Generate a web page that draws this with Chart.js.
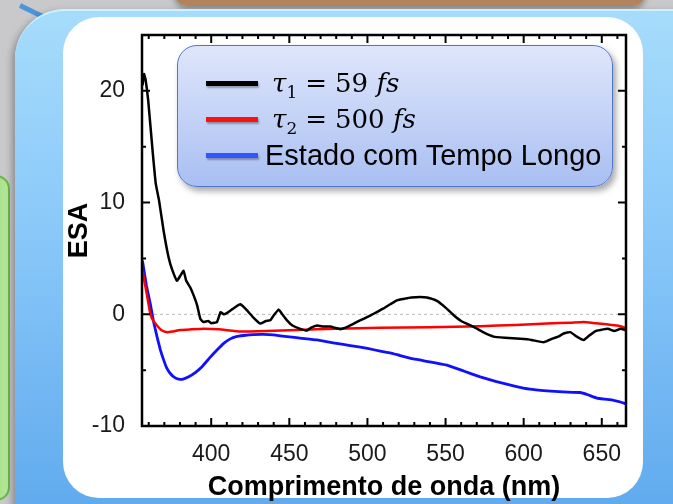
<!DOCTYPE html>
<html>
<head>
<meta charset="utf-8">
<script src="https://cdn.jsdelivr.net/npm/chart.js@4.4.1/dist/chart.umd.min.js"></script>
<style>
    body { margin: 0; width: 673px; height: 504px; overflow: hidden; background: #c9c9cc; position: relative; font-family: "Liberation Sans", Arial, sans-serif; }
    .deco { position: absolute; }
    #legend { position: absolute; left: 177px; top: 45px; width: 436px; height: 142px; box-sizing: border-box;
        border: 1.5px solid #4f76c8; border-radius: 20px;
        background: linear-gradient(to bottom, #dfe6fb, #a9bff2);
        box-shadow: 3px 4px 6px rgba(0,0,0,0.35); }
    #legend .row { position: absolute; left: 0; height: 36px; display: flex; align-items: center; }
    #legend .swatch { position: absolute; left: 28px; width: 52px; height: 5px; box-shadow: 1px 2px 2px rgba(0,0,0,0.3); }
    #legend .lbl { position: absolute; left: 87px; white-space: nowrap; font-size: 29px; color: #000; }
    #legend .math { left: 94px; font-family: "DejaVu Serif", serif; font-size: 26px; }
    #legend .math sub { font-size: 17px; vertical-align: -6px; line-height: 0; }
    #legend .math .eq { margin: 0 8px; }
</style>
</head>
<body>
<div class="deco" style="left:175px;top:-30px;width:470px;height:36px;border-radius:12px;background:linear-gradient(to bottom,#8a7a6e,#b8855c);box-shadow:0 3px 6px rgba(0,0,0,0.35)"></div>
<div class="deco" style="left:20px;top:3px;width:31px;height:5px;background:#4d94db;transform:rotate(26deg);transform-origin:0 50%"></div>
<div class="deco" style="left:-22px;top:175px;width:28px;height:322px;border-radius:14px;background:linear-gradient(to right,#8fd46a,#b5e89c);border:2px solid #6cb64a"></div>
<div class="deco" style="left:15px;top:9px;width:720px;height:540px;border-radius:50px;border-top:2px solid #c8f2ff;background:linear-gradient(to bottom,#a6dcfb 0%,#8ecbfa 35%,#5aa6ec 100%);box-shadow:-3px 3px 7px rgba(0,0,0,0.3)"></div>
<div class="deco" style="left:63px;top:17px;width:580px;height:481px;border-radius:36px;background:#ffffff"></div>
<canvas id="chart" class="deco" style="left:0;top:0" width="673" height="504"></canvas>
<div id="legend"></div>

<script>
// Dados
const seriesLabels = ['τ1 = 59 fs', 'τ2 = 500 fs', 'Estado com Tempo Longo'];
const seriesColors = ['#000000', '#ff0000', '#1010ff'];
const legendColors = ['#000000', '#ff1010', '#3355ff'];

const xTicks = [400, 450, 500, 550, 600, 650];
const yTicks = [-10, 0, 10, 20];

const tau1Nm = [356, 357, 358, 359.7, 362.5, 364.5, 366.6, 369.5, 372.7, 375, 378.1, 380, 382.3, 384, 386.6, 389, 391, 393, 395, 398,
    400, 403.7, 406, 408, 410, 413, 416, 418.6, 422.9, 427, 431.4, 435, 437.8, 440, 443.1, 445, 448.5, 452, 457, 461.3,
    464, 467.7, 472, 476.2, 482.6, 486, 489, 493, 497.5, 502, 506, 510, 514.6, 518.9, 524, 528, 533.8, 538, 544.5, 550,
    555.2, 560, 568, 574, 580.8, 588, 597.9, 605, 612.8, 618, 622, 626, 629.9, 634, 638.5, 642, 646, 649.2, 654, 658, 662, 665];
const tau1Val = [20.5, 21.5, 21.0, 19.1, 14.6, 11.7, 10.2, 7.5, 5.1, 4.0, 3.0, 3.4, 3.9, 3.0, 2.4, 1.6, 0.8, -0.4, -0.7, -0.6,
    -0.8, -0.7, 0.2, 0.0, 0.1, 0.4, 0.7, 0.9, 0.36, -0.3, -0.83, -0.6, -0.54, -0.1, 0.42, 0.1, -0.54, -1.0, -1.3, -1.45,
    -1.2, -1.0, -1.1, -1.1, -1.33, -1.2, -1.0, -0.7, -0.4, -0.1, 0.2, 0.5, 0.9, 1.25, 1.4, 1.5, 1.55, 1.5, 1.2, 0.6,
    -0.08, -0.6, -1.13, -1.6, -2.0, -2.1, -2.2, -2.3, -2.5, -2.2, -2.0, -1.7, -1.6, -2.0, -2.3, -1.9, -1.5, -1.4, -1.3, -1.5, -1.3, -1.4];

const tau2Nm = [356, 358, 361, 363, 365.3, 368, 371.7, 375, 380.2, 387, 395.1, 405, 418.6, 435, 454.9, 480, 508, 540, 572, 595,
    614.9, 630, 638.3, 646, 653.2, 660, 665];
const tau2Val = [3.9, 2.4, 0.06, -0.6, -1.0, -1.4, -1.6, -1.55, -1.4, -1.35, -1.3, -1.35, -1.55, -1.5, -1.4, -1.3, -1.2, -1.15, -1.07, -0.95,
    -0.83, -0.75, -0.68, -0.8, -0.9, -1.0, -1.2];

const longoNm = [356, 358.5, 361, 363, 365.3, 367.5, 369.6, 371.5, 373.8, 376.5, 379.2, 382, 385.6, 390, 394.1, 399, 403.7, 408, 412.2, 416,
    420.8, 427, 433.6, 440, 448.5, 458, 467.7, 478, 489, 500, 508.2, 514.6, 521, 529.5, 540, 550.9, 562, 572.2, 582, 593.5,
    604, 614.9, 625, 636.2, 641, 646.9, 652, 657.5, 662, 665];
const longoVal = [4.8, 2.6, 0.95, -0.6, -2.0, -3.2, -4.1, -4.8, -5.3, -5.65, -5.8, -5.8, -5.6, -5.2, -4.7, -3.9, -3.2, -2.6, -2.2, -2.0,
    -1.9, -1.82, -1.8, -1.85, -2.0, -2.15, -2.3, -2.55, -2.8, -3.05, -3.3, -3.45, -3.7, -4.0, -4.25, -4.55, -5.1, -5.6, -6.0, -6.4,
    -6.7, -6.85, -6.95, -7.0, -7.2, -7.5, -7.6, -7.7, -7.85, -8.0];

function toPoints(xs, ys) {
    return xs.map((x, i) => ({ x: x, y: ys[i] }));
}

// moldura com marcas para dentro, e linha tracejada no zero
const framePlugin = {
    id: 'frame',
    beforeDatasetsDraw(chart) {
        const { ctx, chartArea: a, scales: { y } } = chart;
        const y0 = y.getPixelForValue(0);
        ctx.save();
        ctx.strokeStyle = '#aaaaaa';
        ctx.lineWidth = 0.8;
        ctx.setLineDash([3, 3]);
        ctx.beginPath();
        ctx.moveTo(a.left, y0);
        ctx.lineTo(a.right, y0);
        ctx.stroke();
        ctx.restore();
    },
    afterDatasetsDraw(chart) {
        const { ctx, chartArea: a, scales: { x, y } } = chart;
        ctx.save();
        ctx.strokeStyle = '#000';
        ctx.lineWidth = 2;
        for (let v = 360; v <= x.max; v += 10) {
            const px = x.getPixelForValue(v);
            const len = v % 50 === 0 ? 8 : 4;
            ctx.beginPath();
            ctx.moveTo(px, a.bottom); ctx.lineTo(px, a.bottom - len);
            ctx.moveTo(px, a.top); ctx.lineTo(px, a.top + len);
            ctx.stroke();
        }
        for (let v = y.min; v <= y.max; v += 5) {
            const py = y.getPixelForValue(v);
            const len = v % 10 === 0 ? 8 : 4;
            ctx.beginPath();
            ctx.moveTo(a.left, py); ctx.lineTo(a.left + len, py);
            ctx.moveTo(a.right, py); ctx.lineTo(a.right - len, py);
            ctx.stroke();
        }
        ctx.lineWidth = 2.5;
        ctx.strokeRect(a.left, a.top, a.right - a.left, a.bottom - a.top);
        ctx.restore();
    }
};

const tickFont = { family: '"Liberation Sans", Arial, sans-serif', size: 23 };
const titleFont = { family: '"Liberation Sans", Arial, sans-serif', size: 27, weight: 'bold', lineHeight: 1.2 };

const chart = new Chart(document.getElementById('chart'), {
    type: 'line',
    data: {
        datasets: [
            { label: seriesLabels[0], data: toPoints(tau1Nm, tau1Val), borderColor: seriesColors[0] },
            { label: seriesLabels[1], data: toPoints(tau2Nm, tau2Val), borderColor: seriesColors[1] },
            { label: seriesLabels[2], data: toPoints(longoNm, longoVal), borderColor: seriesColors[2], borderWidth: 2.8 }
        ]
    },
    options: {
        responsive: false,
        animation: false,
        elements: {
            point: { radius: 0 },
            line: { borderWidth: 2.5, tension: 0.1 }
        },
        layout: { padding: { left: 59, top: 35, right: 47, bottom: 0 } },
        plugins: {
            legend: { display: false },
            tooltip: { enabled: false }
        },
        scales: {
            x: {
                type: 'linear',
                min: 355.7,
                max: 665.5,
                afterBuildTicks: (s) => { s.ticks = xTicks.map(v => ({ value: v })); },
                afterFit: (s) => { s.height = 78; },
                grid: { display: false },
                border: { display: false },
                ticks: { font: tickFont, color: '#1a1a1a', padding: 7, maxRotation: 0 },
                title: { display: true, text: 'Comprimento de onda (nm)', font: titleFont, color: '#000', padding: { top: 0, bottom: 0 } }
            },
            y: {
                min: -10,
                max: 25,
                afterBuildTicks: (s) => { s.ticks = yTicks.map(v => ({ value: v })); },
                afterFit: (s) => { s.width = 83; },
                grid: { display: false },
                border: { display: false },
                ticks: { font: tickFont, color: '#1a1a1a', padding: 9 },
                title: { display: true, text: 'ESA', font: titleFont, color: '#000', padding: { top: 4, bottom: 0 } }
            }
        }
    },
    plugins: [framePlugin]
});

// legenda em HTML, a partir dos datasets
function formatLabel(text) {
    const m = text.match(/^τ(\d) = (\d+) fs$/);
    if (!m) return { cls: 'lbl', html: text };
    return { cls: 'lbl math', html: '<i>τ</i><sub>' + m[1] + '</sub><span class="eq">=</span>' + m[2] + ' <i>fs</i>' };
}

const legendEl = document.getElementById('legend');
chart.data.datasets.forEach((ds, i) => {
    const row = document.createElement('div');
    row.className = 'row';
    row.style.top = (19 + i * 36) + 'px';
    const f = formatLabel(ds.label);
    row.innerHTML = `
        <span class="swatch" style="background:${legendColors[i]}"></span>
        <span class="${f.cls}">${f.html}</span>
    `;
    legendEl.appendChild(row);
});
</script>
</body>
</html>
